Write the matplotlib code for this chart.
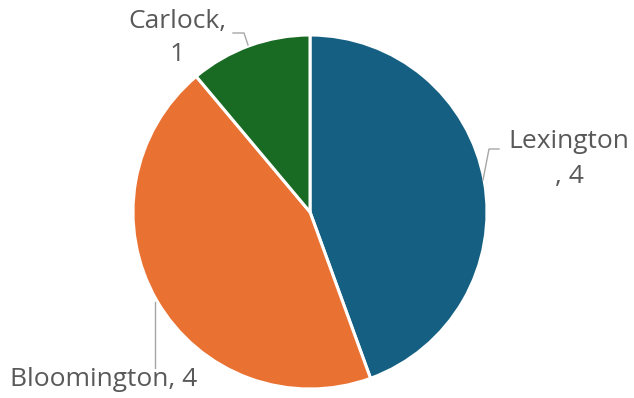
import matplotlib.pyplot as plt

labels = ["Lexington", "Bloomington", "Carlock"]
values = [4, 4, 1]
colors = ["#156082", "#E97132", "#196B24"]

plt.rcParams['font.family'] = ['Open Sans', 'DejaVu Sans']

fig = plt.figure(figsize=(6.34, 3.98), dpi=100)
ax = fig.add_axes([0, 0, 1, 1])

ax.pie(values, colors=colors, startangle=90, counterclock=False,
       center=(310, 186), radius=177,
       wedgeprops=dict(edgecolor="white", linewidth=2.2))

ax.set_xlim(0, 634)
ax.set_ylim(0, 398)
ax.set_aspect("equal")
ax.axis("off")

txt = "#595959"
line = "#a6a6a6"
fs = 19

# Lexington label + leader
ax.plot([483, 489, 499], [398 - 180, 398 - 149, 398 - 149], color=line, lw=1)
ax.text(569, 398 - 159, "Lexington\n, 4", ha="center", va="center",
        fontsize=fs, color=txt, linespacing=1.5)

# Bloomington label + leader
ax.plot([155, 155], [398 - 302, 398 - 368], color=line, lw=1)
ax.text(104, 398 - 379, "Bloomington, 4", ha="center", va="center",
        fontsize=fs, color=txt)

# Carlock label + leader
ax.plot([248, 244, 233], [398 - 45, 398 - 33, 398 - 33], color=line, lw=1)
ax.text(177, 398 - 38, "Carlock,\n1", ha="center", va="center",
        fontsize=fs, color=txt, linespacing=1.45)

fig.savefig("out.png", dpi=100)
